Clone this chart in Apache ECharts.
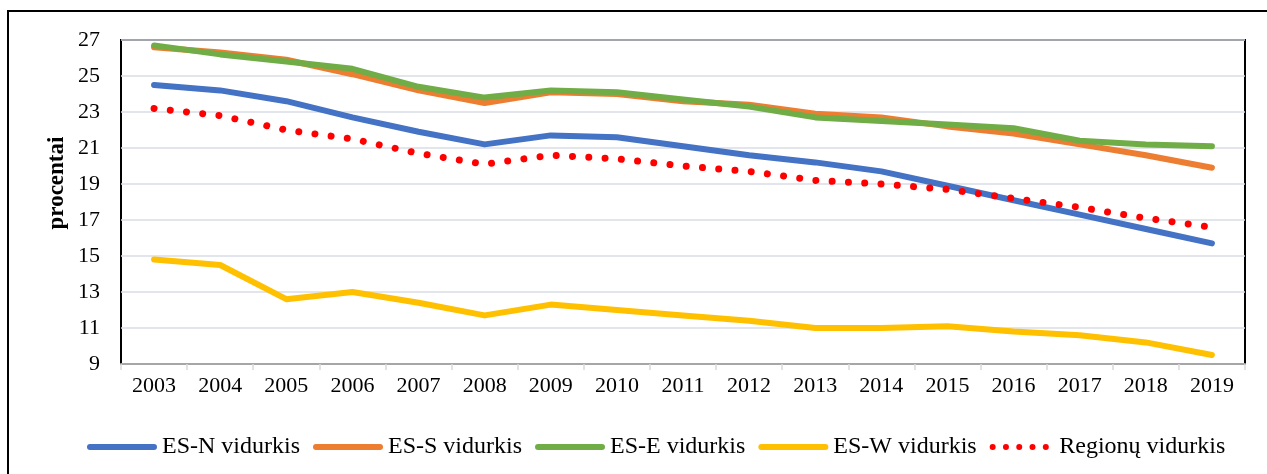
<!DOCTYPE html>
<html>
<head>
<meta charset="utf-8">
<script src="https://cdn.jsdelivr.net/npm/echarts@6/dist/echarts.min.js"></script>
<style>
html,body{margin:0;padding:0;background:#fff;}
#c{width:1267px;height:474px;}
</style>
</head>
<body>
<div id="c"></div>
<script>
const years = ['2003','2004','2005','2006','2007','2008','2009','2010','2011','2012','2013','2014','2015','2016','2017','2018','2019'];
const esN = [24.5,24.2,23.6,22.7,21.9,21.2,21.7,21.6,21.1,20.6,20.2,19.7,18.9,18.1,17.3,16.5,15.7];
const esS = [26.6,26.3,25.9,25.1,24.2,23.5,24.1,24.0,23.6,23.4,22.9,22.7,22.2,21.8,21.2,20.6,19.9];
const esE = [26.7,26.2,25.8,25.4,24.4,23.8,24.2,24.1,23.7,23.3,22.7,22.5,22.3,22.1,21.4,21.2,21.1];
const esW = [14.8,14.5,12.6,13.0,12.4,11.7,12.3,12.0,11.7,11.4,11.0,11.0,11.1,10.8,10.6,10.2,9.5];
const regAvg = [23.2,22.8,22.0,21.5,20.7,20.1,20.6,20.4,20.0,19.7,19.2,19.0,18.7,18.2,17.7,17.1,16.6];
const seriesNames = ['ES-N vidurkis','ES-S vidurkis','ES-E vidurkis','ES-W vidurkis','Regionų vidurkis'];
const yTitle = 'procentai';
const colors = ['#4472C4','#ED7D31','#70AD47','#FFC000','#FF0000'];

const font = 'Liberation Serif, Times New Roman, serif';
const chart = echarts.init(document.getElementById('c'));

function solid(name, data, color){
  return {name, type:'line', data, symbol:'none', smooth:false,
    lineStyle:{color, width:6, cap:'round', join:'round'}, itemStyle:{color}};
}
// five dots for the dotted legend icon
const dotsPath = 'path://' + [0,1,2,3,4].map(i => {
  const cx = 3.5 + i*15.5;
  return `M${cx-3.5},3.5A3.5,3.5 0 1,1 ${cx+3.5},3.5A3.5,3.5 0 1,1 ${cx-3.5},3.5Z`;
}).join(' ');
const lineIcon = 'path://M3,0L67,0A3,3 0 0,1 67,6L3,6A3,3 0 0,1 3,0Z';

chart.setOption({
  animation:false,
  color: colors,
  graphic:[
    {type:'rect', shape:{x:8, y:11, width:1300, height:500},
      style:{fill:'none', stroke:'#000', lineWidth:2}, z:-10, silent:true},
    {type:'text', x:57, y:183, rotation:Math.PI/2,
      style:{text:yTitle, font:'bold 23px ' + font, fill:'#000', align:'center', verticalAlign:'middle'}}
  ],
  grid:{left:121, top:40, right:22, bottom:110, show:true, borderColor:'#000', borderWidth:2, backgroundColor:'#fff'},
  legend:{
    top:430, left:82, itemWidth:70, itemHeight:6, itemGap:13,
    textStyle:{fontFamily:font, fontSize:24, color:'#000'},
    data: seriesNames.map((n,i) => ({name:n, icon: i===4 ? dotsPath : lineIcon}))
  },
  xAxis:{
    type:'category', data:years, boundaryGap:true,
    axisLine:{lineStyle:{color:'#a6a6a6', width:2}},
    axisTick:{show:true, length:6, lineStyle:{color:'#d9d9d9', width:1.5}},
    axisLabel:{fontFamily:font, fontSize:22, color:'#000', margin:11},
    splitLine:{show:false}
  },
  yAxis:{
    type:'value', min:9, max:27, interval:2,
    axisLine:{show:false}, axisTick:{show:false},
    axisLabel:{fontFamily:font, fontSize:22, color:'#000', margin:21},
    splitLine:{lineStyle:{color:'#d9dde6', width:1.5}}
  },
  series:[
    solid(seriesNames[0], esN, colors[0]),
    solid(seriesNames[1], esS, colors[1]),
    solid(seriesNames[2], esE, colors[2]),
    solid(seriesNames[3], esW, colors[3]),
    {name:seriesNames[4], type:'line', data:regAvg, symbol:'none',
      lineStyle:{color:colors[4], width:7, type:[0.01,16.3], cap:'round'}, itemStyle:{color:colors[4]}}
  ]
});
</script>
</body>
</html>
